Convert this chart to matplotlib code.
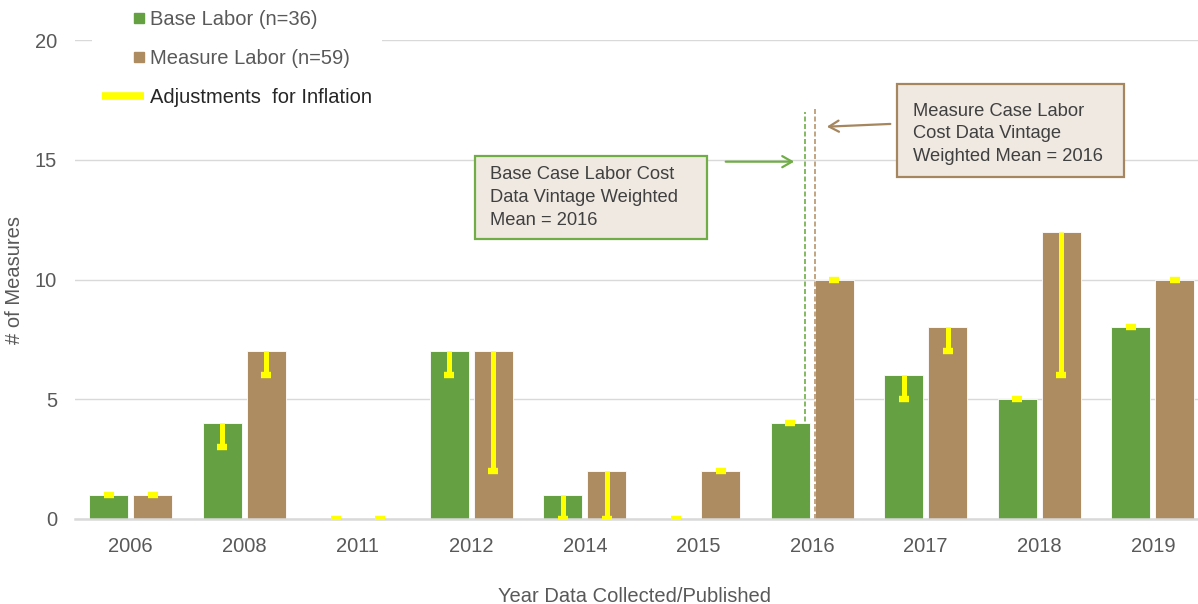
import numpy as np
import matplotlib
matplotlib.use('Agg')
import matplotlib.pyplot as plt
from matplotlib.patches import Patch, Rectangle
from matplotlib.lines import Line2D
from matplotlib.legend_handler import HandlerPatch

# data
years = ['2006', '2008', '2011', '2012', '2014', '2015', '2016', '2017', '2018', '2019']
base_labor = [1, 4, 0, 7, 1, 0, 4, 6, 5, 8]
measure_labor = [1, 7, 0, 7, 2, 2, 10, 8, 12, 10]
# lower end of the inflation adjustment bars
base_adj_low = [1, 3, 0, 6, 0, 0, 4, 5, 5, 8]
measure_adj_low = [1, 6, 0, 2, 0, 2, 10, 7, 6, 10]

# weighted mean markers (drawn near the 2016 category)
base_mean_x = 5.94
measure_mean_x = 6.025
base_mean_top = 17.0
measure_mean_top = 17.1

green = '#65A043'
brown = '#AE8C62'
yellow = '#FFFF00'
grid_c = '#D9D9D9'
txt_c = '#595959'

plt.rcParams['font.family'] = ['Liberation Sans', 'DejaVu Sans']

W, H = 1198, 604
fig = plt.figure(figsize=(W / 100, H / 100), dpi=100)
ax = fig.add_axes([75 / W, 85 / H, 1 - 75 / W, (519 - 40) / H])

x = np.arange(len(years))
off = 0.1937
bw = 0.343

ax.bar(x - off, base_labor, bw, color=green, edgecolor='white', linewidth=0.6, zorder=2)
ax.bar(x + off, measure_labor, bw, color=brown, edgecolor='white', linewidth=0.6, zorder=2)

# inflation adjustment lines with a cap at the low end
for xs, top, low in [(x - off, base_labor, base_adj_low), (x + off, measure_labor, measure_adj_low)]:
    ax.vlines(xs, low, top, color=yellow, lw=3.6, zorder=4)
    ax.plot(xs, low, ls='none', marker='_', ms=7.5, mew=4.6, color=yellow, zorder=4)

# weighted mean dashed lines
ax.vlines(base_mean_x, 0, base_mean_top, color='#70AD47', lw=1.2, ls=(0, (3, 1.5)), zorder=1)
ax.vlines(measure_mean_x, 0, measure_mean_top, color='#B8956B', lw=1.2, ls=(0, (3, 1.5)), zorder=3)

# annotation boxes
ax.add_patch(Rectangle((3.033, 11.71), 2.042, 3.46, facecolor='#EFE9E2', edgecolor='#70AD47', lw=1.6, zorder=5))
ax.text(3.164, 13.42, 'Base Case Labor Cost\nData Vintage Weighted\nMean = 2016', fontsize=13.2,
        color='#404040', va='center', ha='left', linespacing=1.45, zorder=6)
ax.annotate('', xy=(5.867, 14.92), xytext=(5.215, 14.92),
            arrowprops=dict(arrowstyle='->,head_length=0.7,head_width=0.4', color='#70AD47', lw=1.6), zorder=6)

ax.add_patch(Rectangle((6.748, 14.29), 1.998, 3.88, facecolor='#EFE9E2', edgecolor='#A5865F', lw=1.6, zorder=5))
ax.text(6.888, 16.08, 'Measure Case Labor\nCost Data Vintage\nWeighted Mean = 2016', fontsize=13.2,
        color='#404040', va='center', ha='left', linespacing=1.45, zorder=6)
ax.annotate('', xy=(6.105, 16.375), xytext=(6.713, 16.5),
            arrowprops=dict(arrowstyle='->,head_length=0.7,head_width=0.4', color='#A5865F', lw=1.6), zorder=6)

ax.set_xlim(-0.4886, 9.397)
ax.set_ylim(0, 20)
ax.set_yticks([0, 5, 10, 15, 20])
ax.set_xticks(x)
ax.set_xticklabels(years)
ax.tick_params(length=0, labelsize=14.5, labelcolor=txt_c)
ax.tick_params(axis='y', pad=13)
ax.tick_params(axis='x', pad=13)
ax.grid(axis='y', color=grid_c, lw=1)
ax.set_axisbelow(True)
for s in ['top', 'right', 'left']:
    ax.spines[s].set_visible(False)
ax.spines['bottom'].set_color(grid_c)
ax.spines['bottom'].set_linewidth(1.8)
ax.spines['bottom'].set_zorder(3)

fig.text(15 / W, 1 - 280 / H, '# of Measures', rotation=90, fontsize=14.5, color=txt_c, ha='center', va='center')
fig.text(634 / W, 1 - 596 / H, 'Year Data Collected/Published', fontsize=14.5, color=txt_c, ha='center', va='center')


def small_square(legend, orig_handle, xdescent, ydescent, width, height, fontsize):
    s = 7.2
    return Rectangle((-xdescent + width - s, -ydescent + (height - s) / 2), s, s)


handles = [Patch(color=green), Patch(color=brown), Line2D([], [], color=yellow, lw=5.5, solid_capstyle='butt')]
labels = ['Base Labor (n=36)', 'Measure Labor (n=59)', 'Adjustments  for Inflation']
leg = ax.legend(handles, labels, loc='upper left', bbox_to_anchor=(92 / W, 1.0), bbox_transform=fig.transFigure,
                frameon=True, facecolor='white', edgecolor='none', framealpha=1, fancybox=False,
                fontsize=14.5, handlelength=2.1, handletextpad=0.3, labelspacing=1.0, borderpad=0.5,
                borderaxespad=0, handler_map={Patch: HandlerPatch(patch_func=small_square)})
leg.set_zorder(7)
for t in leg.get_texts()[:2]:
    t.set_color(txt_c)
leg.get_texts()[2].set_color('#262626')

fig.savefig('out.png', dpi=100)
